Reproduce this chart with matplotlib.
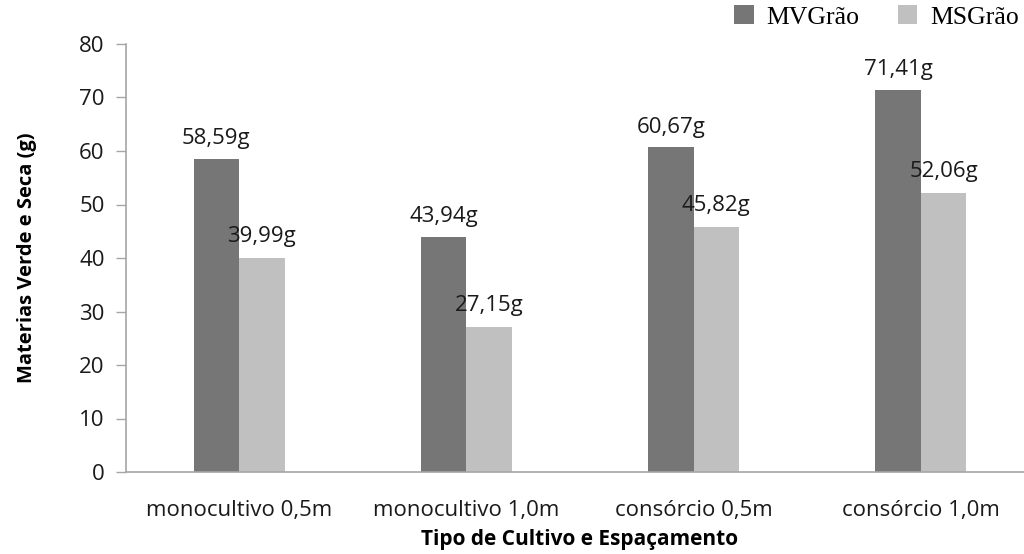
import numpy as np
import matplotlib.pyplot as plt

# tipos de cultivo e massas de grão (g)
categorias = ['monocultivo 0,5m', 'monocultivo 1,0m', 'consórcio 0,5m', 'consórcio 1,0m']
mv_grao = [58.59, 43.94, 60.67, 71.41]
ms_grao = [39.99, 27.15, 45.82, 52.06]
y_ticks = [0, 10, 20, 30, 40, 50, 60, 70, 80]

cor_mv = '#767676'
cor_ms = '#c0c0c0'
cor_eixo = '#a6a6a6'

plt.rcParams['font.family'] = ['Open Sans', 'DejaVu Sans']

fig = plt.figure(figsize=(10.24, 5.54), dpi=100)
ax = fig.add_axes([125.5 / 1024, 1 - 472 / 554, 909 / 1024, 428 / 554])

x = np.arange(len(categorias))
w = 0.2
b1 = ax.bar(x - w / 2, mv_grao, w, color=cor_mv, label='MVGrão')
b2 = ax.bar(x + w / 2, ms_grao, w, color=cor_ms, label='MSGrão')

def fmt(v):
    return ('%.2f' % v).replace('.', ',') + 'g'

for xi, v in zip(x - w / 2, mv_grao):
    ax.annotate(fmt(v), (xi, v), xytext=(0, 7), textcoords='offset points',
                ha='center', va='bottom', fontsize=16, color='#1a1a1a')
for xi, v in zip(x + w / 2, ms_grao):
    ax.annotate(fmt(v), (xi, v), xytext=(0, 8), textcoords='offset points',
                ha='center', va='bottom', fontsize=16, color='#1a1a1a')

ax.set_xlim(-0.5, len(categorias) - 0.5)
ax.set_ylim(0, 80)
ax.set_yticks(y_ticks)
ax.set_xticks(x)
ax.set_xticklabels(categorias, fontsize=16, color='#1a1a1a')
ax.tick_params(axis='y', labelsize=16, labelcolor='#1a1a1a', color=cor_eixo,
               length=7, width=1, pad=8)
ax.tick_params(axis='x', length=0, pad=20)

for s in ['top', 'right']:
    ax.spines[s].set_visible(False)
ax.spines['left'].set_color(cor_eixo)
ax.spines['bottom'].set_color(cor_eixo)
ax.spines['left'].set_linewidth(1.2)
ax.spines['bottom'].set_linewidth(1.2)

ax.set_ylabel('Materias Verde e Seca (g)', fontsize=14.5, fontweight='bold', labelpad=30)
ax.set_xlabel('Tipo de Cultivo e Espaçamento', fontsize=15, fontweight='bold', labelpad=6)

fig.legend(handles=[b1, b2], loc='center right', bbox_to_anchor=(1.0, 1 - 17 / 554),
           ncol=2, frameon=False, prop={'family': 'Liberation Serif', 'size': 18.5},
           handlelength=0.75, handleheight=0.75, handletextpad=0.5, columnspacing=1.5,
           borderaxespad=0, borderpad=0.2)

fig.savefig('out.png', dpi=100)
